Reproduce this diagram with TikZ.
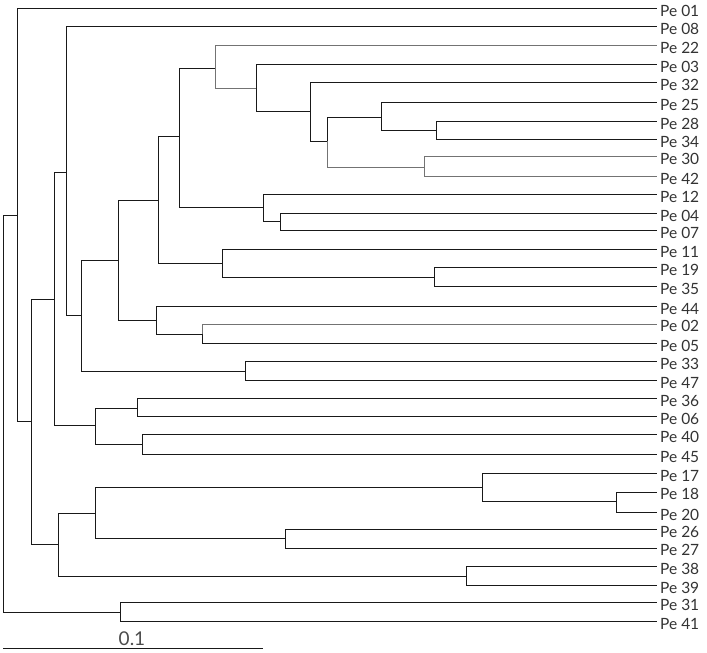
\documentclass[tikz,border=0pt]{standalone}
\usepackage{fontspec}
\setmainfont{Lato}
\begin{document}
\begin{tikzpicture}[x=1pt,y=-1pt,
  edge/.style={line width=0.9pt,black!90},
  faint/.style={line width=0.9pt,black!55},
  leaf/.style={anchor=west,inner sep=0pt,xshift=3.5pt,yshift=-2.3pt,font=\fontsize{15.5}{16}\selectfont,text=black!80},
  scalelab/.style={inner sep=0pt,font=\fontsize{19}{20}\selectfont,text=black!70}]
\useasboundingbox (0,0) rectangle (707,653);
% leaf tips
\def\tx{656.5}
\foreach \n/\y in {01/8.3,08/26.5,22/45.3,03/64.3,32/82.3,25/102.3,28/121.5,34/139.3,30/156.7,42/176.7,12/194.3,04/213.3,07/230.3,11/249.3,19/267.5,35/286.7,44/306.3,02/324,05/343.3,33/361.3,47/380.3,36/398.3,06/416.3,40/434.3,45/454.5,17/473.3,18/492,20/512.5,26/529.3,27/548,38/566.3,39/585.3,31/602.5,41/621.3}{
  \coordinate (t\n) at (\tx,\y);
  \node[leaf] (l\n) at (t\n) {Pe \n};
}
% internal nodes
\coordinate (n2834) at (436.5,130);
\coordinate (n25) at (381.5,117);
\coordinate (n3042) at (424,167.3);
\coordinate (n2530) at (327.3,141);
\coordinate (n32) at (310.3,111);
\coordinate (n03) at (256.3,88.7);
\coordinate (n22) at (215,68.3);
\coordinate (n0407) at (280.3,221.3);
\coordinate (n12) at (263.3,207.3);
\coordinate (nA) at (179.3,136.3);
\coordinate (n1935) at (434.3,277.3);
\coordinate (n11) at (222.3,263.3);
\coordinate (nB) at (158.3,200.3);
\coordinate (n0205) at (202.7,334.3);
\coordinate (n44) at (156.3,320);
\coordinate (nC) at (118.3,260.3);
\coordinate (n3347) at (245.3,371.3);
\coordinate (nD) at (81.3,315.3);
\coordinate (nE) at (66.7,172.3);
\coordinate (n3606) at (137.3,408.3);
\coordinate (n4045) at (142.3,444.3);
\coordinate (nF) at (95.7,425.3);
\coordinate (nG) at (54.3,299.3);
\coordinate (n1820) at (616,501.3);
\coordinate (n17) at (482.3,487);
\coordinate (n2627) at (285,538.3);
\coordinate (nH) at (95.7,513.3);
\coordinate (n3839) at (466.3,576);
\coordinate (nI) at (58.3,544.3);
\coordinate (nJ) at (31.3,421.7);
\coordinate (nK) at (17.3,215);
\coordinate (n3141) at (120.3,612.3);
\coordinate (root) at (3.3,215);
% edges
\foreach \p/\c in {n2834/t28,n2834/t34,n25/t25,n25/n2834,n2530/n25,n32/t32,n32/n2530,n03/t03,n03/n32,
  n0407/t04,n0407/t07,n12/t12,n12/n0407,nA/n22,nA/n12,n1935/t19,n1935/t35,n11/t11,n11/n1935,
  nB/nA,nB/n11,n0205/t05,n44/t44,n44/n0205,nC/nB,nC/n44,n3347/t33,n3347/t47,nD/nC,nD/n3347,
  nE/t08,nE/nD,n3606/t36,n3606/t06,n4045/t40,n4045/t45,nF/n3606,nF/n4045,nG/nE,nG/nF,
  n1820/t18,n1820/t20,n17/t17,n17/n1820,n2627/t26,n2627/t27,nH/n17,nH/n2627,n3839/t38,n3839/t39,
  nI/nH,nI/n3839,nJ/nG,nJ/nI,nK/t01,nK/nJ,n3141/t31,n3141/t41,root/nK,root/n3141}{
  \draw[edge] (\p) |- (\c);
}
\foreach \p/\c in {n22/t22,n22/n03,n3042/t30,n3042/t42,n2530/n3042,n0205/t02}{
  \draw[faint] (\p) |- (\c);
}
% scale bar
\coordinate (sb1) at (3.3,648.3);
\coordinate (sb2) at (263.3,648.3);
\draw[edge] (sb1) -- (sb2);
\node[scalelab] (sblab) at (132,638.5) {0.1};
\end{tikzpicture}
\end{document}
